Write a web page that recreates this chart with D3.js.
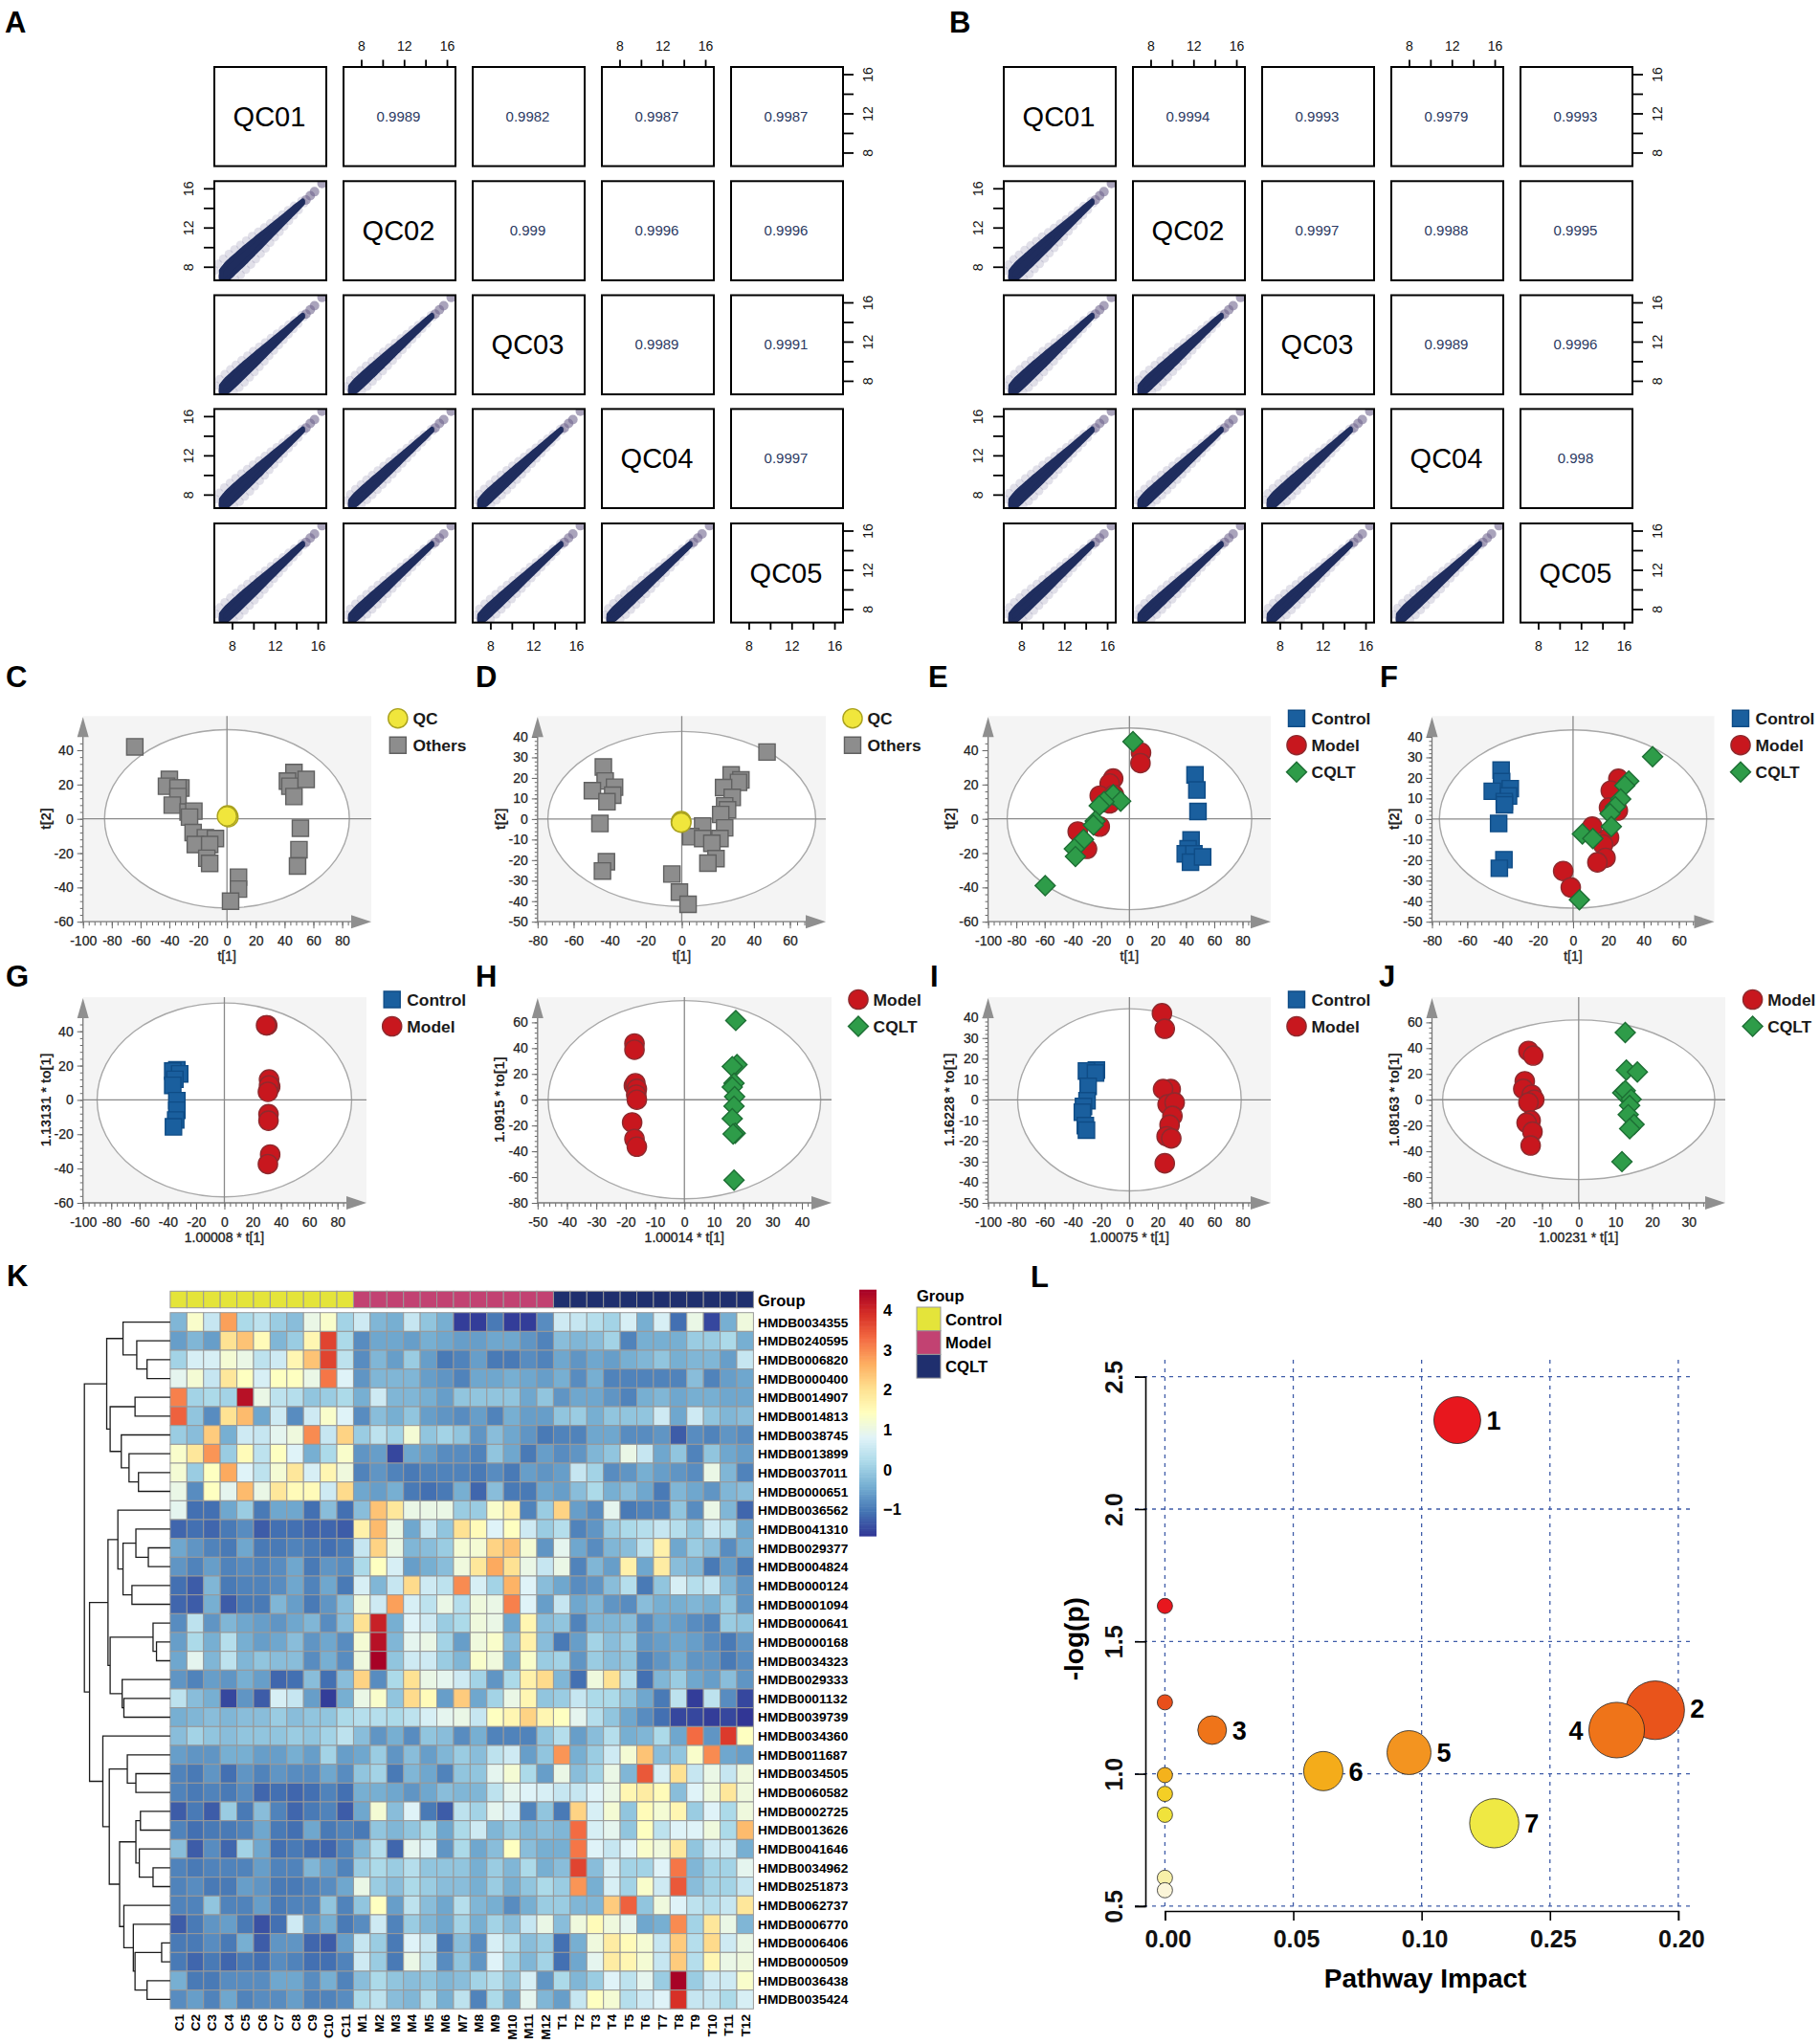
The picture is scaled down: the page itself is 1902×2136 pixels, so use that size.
<!DOCTYPE html>
<html>
<head>
<meta charset="utf-8">
<title>QC, OPLS-DA, heatmap and pathway figure</title>
<script src="https://cdn.jsdelivr.net/npm/d3@7"></script>
<style>
    body { margin: 0; background: #fff; }
    text { font-family: "Liberation Sans", Arial, sans-serif; }
</style>
</head>
<body>
<div id="chart"></div>
<script>
// ---- QC pair plots (A, B) ----
const qcNames = ['QC01', 'QC02', 'QC03', 'QC04', 'QC05'];
const qcCorrA = [['0.9989', '0.9982', '0.9987', '0.9987'], ['0.999', '0.9996', '0.9996'], ['0.9989', '0.9991'], ['0.9997']];
const qcCorrB = [['0.9994', '0.9993', '0.9979', '0.9993'], ['0.9997', '0.9988', '0.9995'], ['0.9989', '0.9996'], ['0.998']];
const qcTicks = [8, 10, 12, 14, 16];
const qcTickLabels = [8, 12, 16];
// the cloud along the diagonal
const qcLine = [7.0, 7.5, 8, 8.5, 9, 9.5, 10, 10.5, 11, 11.5, 12, 12.5, 13, 13.5, 14, 14.6];
const qcHalfWidth = [0.5, 0.66, 0.68, 0.66, 0.64, 0.6, 0.56, 0.52, 0.46, 0.41, 0.36, 0.31, 0.26, 0.22, 0.18, 0.1];
const qcTailX = [7.15, 14.9, 15.3, 15.7, 16.4];
const qcTailY = [7.0, 14.8, 15.25, 15.65, 16.5];
const qcWidthA = [[1.2], [1, 0.85], [1.05, 0.8, 0.85], [1, 0.8, 0.8, 0.85]];
const qcWidthB = [[1.1], [1, 0.95], [1, 0.85, 0.95], [1, 0.85, 0.9, 0.9]];

// ---- score plots (C - J), [t1, t2] ----
const cOthers = [[-64, 42], [-40, 23], [-42, 19], [-32, 18], [-34, 18], [-34, 13], [-38, 8], [-27, 4], [-23, 4.5], [-26, 1], [-23.5, -8], [-15, -11], [-8, -11.5], [-22, -15], [-12, -15], [-14, -23], [-12, -26], [46.5, 27], [42, 22], [43.7, 19], [55, 23], [46.5, 13], [51, -5.5], [50, -18], [49, -27.5], [8, -34], [8, -41], [2.5, -48]];
const cQc = [[0.5, 2], [1, 1], [0, 1.5]];
const dOthers = [[47.3, 32.6], [-43.5, 25.3], [-42.5, 18.5], [-37.3, 15.5], [-49.6, 13.8], [-38.3, 11.6], [-41.5, 8.4], [-45.4, -2.2], [-41.8, -20.8], [-44, -25.3], [27.4, 21.5], [32.8, 19], [31.5, 17.8], [23.2, 15.3], [28, 10.5], [23.8, 6.4], [25.4, 4.5], [21.6, 2.2], [11.6, -3.4], [23.8, -4.3], [5, -8.6], [11.6, -9.5], [21.2, -9.5], [16.7, -11.8], [19, -19.3], [14.5, -21.5], [-5.5, -26.8], [-1.3, -35.6], [3.5, -41.5]];
const dQc = [[-0.3, -1], [-0.5, -1.5], [-0.3, -1.8]];
const eControl = [[46.4, 25.6], [47.7, 16.8], [48.5, 4.3], [43.6, -12.3], [41.5, -17.5], [39.5, -20.4], [45.6, -20.4], [43.2, -25.3], [51.8, -22.2]];
const eModel = [[8.2, 38.6], [7.8, 32.5], [-11.5, 23.5], [-14, 20.6], [-21, 13.5], [-14, 9], [-11, 14], [-36.6, -7.4], [-21, -4.5], [-30, -17.5]];
const eCqlt = [[2.5, 45], [-11.5, 14], [-6.2, 10.3], [-18, 10], [-21.4, 7.6], [-24.2, -1.3], [-25.5, -3.6], [-32.5, -12], [-39, -17.5], [-38.2, -22], [-59.6, -39]];
const fControl = [[-40.8, 23.8], [-40.5, 18.2], [-35.6, 14.8], [-45.8, 13.5], [-36.6, 11.2], [-39, 8.5], [-38.9, 6.9], [-42.2, -2.2], [-39.2, -19.8], [-41.8, -24]];
const fModel = [[25.7, 19.6], [21.4, 13.8], [20.4, 5.6], [25.4, 4.1], [10.9, -3.7], [20.4, -9], [17, -12.4], [18.4, -18.9], [13.8, -21.1], [-5.6, -25.3], [-1.3, -33.3]];
const fCqlt = [[45.1, 30.3], [31.6, 18.5], [29.3, 16.3], [27, 9.7], [24, 6], [21, 2.6], [21.7, -3.7], [5.3, -7.3], [11.2, -9.5], [3.6, -39.3]];
const gControl = [[-33.6, 17.5], [-36.5, 16.8], [-31.6, 15.2], [-35, 12], [-36.5, 8.5], [-33.6, -0.4], [-33.6, -6], [-34.4, -11.7], [-36, -15.7]];
const gModel = [[30.3, 43.5], [29.5, 43.5], [31.6, 11.9], [32.4, 7.8], [31.6, 8.5], [30.8, 4.7], [31.2, -8.3], [31.2, -12.1], [32.4, -31.8], [30.8, -37.4]];
const hModel = [[-17, 43.6], [-17, 38.8], [-17.2, 11], [-16.7, 12.8], [-16.2, 8.4], [-16.4, 3.9], [-16.2, 0], [-17.8, -17.6], [-17, -30.4], [-16.2, -36.4]];
const hCqlt = [[17.5, 61.5], [17.9, 27.2], [16.3, 25.7], [16.9, 12.8], [16.3, 9.9], [17.1, 2.4], [16.9, -5], [16.3, -14.6], [17.3, -26], [16.6, -26.5], [16.9, -62.4]];
const iControl = [[-23.4, 14.4], [-30.4, 14], [-24, 13], [-29.2, 6.5], [-30, -0.4], [-32.5, -3.2], [-33.3, -6], [-31.2, -12.5], [-30.4, -14.7]];
const iModel = [[23, 42], [25, 34.5], [29.2, 5.2], [23.8, 5.2], [27, -2.2], [32, -1.3], [30.4, -7.8], [28.4, -12.1], [26.3, -17.7], [29.6, -18.7], [25, -30.8]];
const jModel = [[-13.7, 37.9], [-12.4, 34.3], [-14.7, 14.3], [-15.1, 8.4], [-12.8, 3.9], [-12.1, 0], [-13.7, -2.1], [-13.1, -16.1], [-14.2, -17.9], [-12.6, -24.8], [-13.1, -35.5]];
const jCqlt = [[12.7, 52.2], [13, 23], [16, 21.5], [12, 5.4], [12.7, 7], [14.3, 0.3], [13.9, -4.5], [13.5, -11.6], [15.1, -19.1], [13.9, -22.4], [11.8, -48]];

// ---- heatmap (K) ----
const heatRows = ['HMDB0034355', 'HMDB0240595', 'HMDB0006820', 'HMDB0000400', 'HMDB0014907', 'HMDB0014813', 'HMDB0038745', 'HMDB0013899', 'HMDB0037011', 'HMDB0000651', 'HMDB0036562', 'HMDB0041310', 'HMDB0029377', 'HMDB0004824', 'HMDB0000124', 'HMDB0001094', 'HMDB0000641', 'HMDB0000168', 'HMDB0034323', 'HMDB0029333', 'HMDB0001132', 'HMDB0039739', 'HMDB0034360', 'HMDB0011687', 'HMDB0034505', 'HMDB0060582', 'HMDB0002725', 'HMDB0013626', 'HMDB0041646', 'HMDB0034962', 'HMDB0251873', 'HMDB0062737', 'HMDB0006770', 'HMDB0006406', 'HMDB0000509', 'HMDB0036438', 'HMDB0035424'];
const heatCols = ['C1', 'C2', 'C3', 'C4', 'C5', 'C6', 'C7', 'C8', 'C9', 'C10', 'C11', 'M1', 'M2', 'M3', 'M4', 'M5', 'M6', 'M7', 'M8', 'M9', 'M10', 'M11', 'M12', 'T1', 'T2', 'T3', 'T4', 'T5', 'T6', 'T7', 'T8', 'T9', 'T10', 'T11', 'T12'];
const heatGroups = ['Control', 'Model', 'CQLT'];
const heatTicks = [4, 3, 2, 1, 0, -1];
const heatValues = [
    [-.3,1.3,.5,2.8,.2,.4,0,-.2,1,1.3,.1, .6,-.3,-.4,.5,-.1,-.4,-1.6,-1.6,-1,-1.6,-1.6,-.8, .6,.5,.3,.1,.7,-.4,.7,-1.1,1,-1.5,-.4,1.1],
    [-.6,-.3,-.6,2,2.4,1.5,-.3,0,1.6,3.7,.2, -.8,-.5,-.5,-.6,-.4,-.5,-.6,-.6,-.5,-.5,-.7,-.9, -.2,-.3,-.2,.1,-.9,-.4,-.4,-.4,0,0,.2,-.4],
    [.1,.7,.7,1.2,1,.4,.6,1.6,2.4,3.7,.4, -.8,-.3,-.6,0,-.6,-1,-.9,-.6,-1,-1,-.8,-.9, -.5,-.7,-.5,-.6,-.4,-.3,-.1,-.4,-.3,-.3,-.6,.5],
    [.9,1.2,.5,1.9,1.4,.7,1.4,1.4,1,3.2,.8, -.7,-.3,-.3,-.3,-.6,-.7,-.9,-.5,-.5,-.4,-.5,-.6, -.4,-.8,-.4,-.9,-.9,-.9,-.9,-.9,-.2,-.9,-.6,-.5],
    [3.1,.1,.2,.1,4.3,1,.4,.3,-.1,0,.2, -.4,.6,-.3,-.3,-.4,-.6,-.1,-.1,-.1,-.1,-.5,-.1, -.7,-.5,-.5,-.7,-.9,-.4,-.3,-.5,-.4,-.4,-.5,-.5],
    [3.4,-.1,-.8,2,2.5,-.5,.6,-.8,.6,1.3,.8, -.8,-.2,-.4,-.1,-.6,-.7,-.8,-.6,-.9,-.4,-.6,-.6, -.1,0,-.4,-.1,-.1,-.1,.6,-.5,.6,-.1,-.3,-.2],
    [0,-.2,2.3,-.4,.6,.5,.9,1.1,3,.5,2.2, 0,.4,.1,1.2,-.1,.1,-.1,-.7,-.2,-.5,-.7,-1, -.9,-.9,-.5,-.5,-.8,-.8,-.7,-1.3,-.8,-.9,-.7,-.8],
    [1.3,1.9,2.9,0,1.5,.4,1.4,.8,-.4,.2,1.3, -.7,-.6,-1.5,-.5,-.6,-.8,-.8,-.9,-.1,-.5,-1,-.6, -.8,-.7,-.3,-.1,1,.5,-.5,-.1,-.9,-.1,-.5,-.6],
    [1.2,0,1.4,2.7,.8,.4,1.2,1.9,.7,1.6,1.1, -.9,-.7,-.9,-1,-.9,-.9,-.9,-1,-.8,-1,-.6,-.7, -.6,.5,.1,-.8,-.7,-.4,-.6,-.7,-.8,1,-.3,-.9],
    [1,-.8,1.4,.9,2.5,1,1.9,1.5,1.5,.6,2.1, -.5,-.6,-.4,-1,-1.1,-1,-.4,-1.2,-.2,-1,-1,-.5, -.6,-.2,.2,-.4,-.2,-.5,-1,-.3,-.5,-.7,-.3,-.2],
    [.9,-1.1,-1.1,-.5,0,-1,-.5,-.5,-1.1,-.2,-1.1, -.2,2.4,1.9,1,1,1,0,0,1.3,1.7,-.9,0, 2.2,-.6,-.8,.9,-1,-.9,-.9,-.1,-.8,1,-.3,-1.2],
    [-1.2,-1.1,-1.2,-1,-.8,-1.3,-1.1,-1.1,-1.2,-1.2,-1.3, 1.7,2.5,1,-.5,.5,-.1,2,1.5,.8,1.4,.6,0, .3,-.9,-.7,0,.2,.3,.5,.3,-.1,.6,.3,-.5],
    [-.5,-.7,-.9,-1,-.5,-1,-1,-.9,-1,-1.1,-1, .5,2.2,1,-.3,-.2,0,1.2,1.2,2.2,2.4,1.2,-.7, .9,-.5,-.8,-.3,-.2,.4,1.7,-.5,0,-.2,-.8,-.4],
    [-.7,-.9,-.6,-.9,-.8,-.9,-.8,-.5,-1,-.7,-.8, .2,1.4,.7,-.6,-.4,-.2,1.1,1.9,2.7,2,1,.5, 1,-.9,-.3,-.6,1.7,-.5,1.8,-.2,-.3,-1,-.6,-1],
    [-1.1,-1.3,-.3,-1,-.9,-.9,-.8,-.5,-.9,-.5,-1, .7,-.3,.5,2.1,.6,.4,3,.7,.1,2.6,.8,-.2, -.5,-.8,-.7,-.2,.3,-1,-.1,.7,.3,.5,-.3,-.7],
    [-1.2,-1.3,-.4,-1.3,-1,-1,-.3,-.6,-1,-.7,-.2, 1.1,.6,2.8,.7,.4,1,.3,1.1,1,3.1,.8,-.6, .5,-.5,-.3,-.7,-.8,-.2,-.4,-.4,-.3,-.4,0,-.7],
    [-.8,.4,-.7,-.3,-.5,-.6,-.7,-.5,-.3,-.8,-.2, 2,4.1,-.4,.8,.6,0,.2,1.1,1,-.5,1.6,-.2, -.1,-.9,-.3,-.3,-.2,-.8,-.5,-.6,-.8,-.9,0,-.1],
    [-.6,.2,-.4,.3,-.4,-.6,-.5,-.2,-.7,-.5,-.8, 1.2,4.3,-.3,.9,1,.1,-.6,1.1,1.3,-.2,1.7,-.2, -1,-.6,.1,-.2,0,-.7,-.6,-.5,-.6,-.8,-1,-.7],
    [-.5,.9,-.3,.4,-.3,-.1,-.2,-.2,-.8,-.4,-.8, 1.1,4.5,-.1,.6,.6,0,-.3,1.3,1.1,-.4,1.3,0, .1,-.7,0,-.2,-.1,-.9,-.7,-.4,-.7,-.7,-1,-.8],
    [-.7,-.9,-.6,-.7,-.4,-.6,-1.2,-1.1,-.2,-1.1,-.2, 2.2,-.8,.2,2,1,.9,.6,.1,-.7,.2,1.7,2.1, -.3,-1.1,1.1,2,.3,-1.1,-.3,0,-.5,-.6,-.2,-.7],
    [.4,-.2,-.4,-1.5,-.7,-1.3,.7,.5,-.6,-1.6,-.4, 1,1.3,-.1,2.1,1.5,-.6,2.3,-.5,.1,1,1.6,-.1, 0,.5,.2,.2,-.1,-.5,-1,.4,-1.6,.4,-.8,-1.5],
    [-.4,-.3,-.2,-.3,-.2,-.2,0,-.2,-.1,-.1,.2, .3,.3,.2,.4,.7,.9,1,.5,1.4,1.6,2.2,1.6, 1.4,.9,.3,-.1,-.5,-.8,-1.1,-1.5,-1.5,-1.6,-1.5,-1.67],
    [-.2,.1,-.1,-.2,-.1,-.1,-.1,0,-.1,.1,.4, -.2,-.7,-.4,-.8,-.1,-.2,-.8,-.4,-.9,-.9,-.9,-.1, .3,-.6,-.2,.3,-.4,-.3,.2,-.5,3.3,-.7,3.8,1.4],
    [-.6,-.7,-.7,-.4,-.4,-.6,-.6,-.4,-.6,.1,-.6, -.5,0,-.7,-.2,-.6,-.3,0,-.2,.4,.6,-.6,-.1, 2.9,-.4,0,.6,1.2,2.4,-.2,-.1,1.3,3,-.5,-.6],
    [-.9,-1,-.7,-1.1,-.7,-.9,-.7,-.8,-.8,-.5,-.8, -.1,.1,-1,-.3,-.5,-.9,-.1,-.1,.9,1.2,.2,-.6, 1,-.2,.1,1,-.3,3.5,.7,2,.5,1,.5,1.1],
    [-.9,-1,-.9,-1,-.8,-1.2,-1.1,-1.2,-1.1,-.9,-1.1, -.4,-.4,-.5,-.7,-.5,-.2,-.3,-.3,.4,.9,.8,.7, .5,.5,.8,1,1.6,1.8,1.5,-.2,.8,1.1,1.9,1.1],
    [-1.3,-1,-1.3,0,-1,-.2,-.9,-1.2,-1,-.9,-1.3, -.5,1.2,-.2,.8,-1,-1.3,.4,.1,.9,.7,-.9,-.1, -1,2.2,.7,1.2,-.1,1.5,1.2,1.6,0,.8,.2,1.1],
    [-.9,-1.1,-1,-1,-.9,-.5,-1,-1.1,-.5,-1,-.9, -1,-.1,-.3,-.1,.2,-.5,.2,.6,-.3,0,-.3,-.2, -.3,3.3,.7,.9,-.1,1.4,.4,.8,.8,1.1,.2,2.5],
    [-.2,-1.3,-.8,-1.2,.1,-.5,-1.1,-1,-1.1,-1.2,-.9, -.3,.3,-1.2,.9,.7,-.7,.2,-.5,-.2,1.4,-.2,-.4, -.4,3.2,.8,.5,.8,1.3,1.1,1.9,-.1,.6,.6,-.4],
    [-.9,-1,-.9,-.9,-.9,-.6,-.9,-.9,-.3,-.6,-.9, 0,.2,0,.3,-.1,-.1,-.1,-.4,0,-.3,.2,-.4, -.2,3.7,-.2,.7,.1,.1,.8,3.2,-.3,.1,.1,.9],
    [-.9,-.8,-1,-1,-.6,-.7,-1,-1,-.9,-.8,-.5, 1,0,-.2,.2,0,-.2,-.2,-.4,0,-.4,-.1,.2, 0,2.9,-.4,.7,.1,1.3,.6,3.5,-.2,.1,.1,.5],
    [-.9,-.9,-.1,-.9,-.9,-.6,-1,-.9,-.9,-.1,-.9, -.1,1.4,-.6,.4,-.2,-.5,.3,-.3,-.4,-.8,-.4,0, 0,-.3,-.3,2.3,3.4,-.1,1.1,.8,.4,.3,.5,1.9],
    [-1.3,-1,-.7,-.6,-1,-1.4,-1.1,.6,-.7,-.4,-1, -.8,.6,-.9,0,-.3,-.5,.1,-.4,.1,-.2,.5,1, -.2,1.1,1.5,1.1,.9,-.5,-.4,3,.1,1.9,1,-.3],
    [-1,-1,-.8,-1,-.4,-1.3,-.7,-.7,-1.2,-1.3,-.6, .5,0,-1,.8,.5,-1,-.2,-.8,.7,.3,-.2,0, -1.1,-.4,1.1,1.8,1.5,1.2,.5,2.3,.3,2.1,.6,1],
    [-1,-1.2,-1,-1.2,-1,-1.1,-.8,-.9,-1.1,-1.1,-.9, .6,0,-1,1,.4,-.8,-.1,-.7,.8,.1,-.3,.1, -1.1,-.5,.9,1.8,1.6,1.2,.5,2.3,.3,1.6,1,1.1],
    [-.4,-1,-1,-.8,-.8,-.8,-.5,-.5,-.8,-.4,-.9, -.2,.2,-.1,-.2,-.1,-.3,-.2,.1,.3,-.1,.7,-.7, .2,-.3,0,.8,.4,.9,0,4.5,0,.6,.6,1.3],
    [-.8,-.6,-.9,-.5,-.9,-.8,-.8,-.6,-.9,-.9,-.8, .2,.4,-.2,-.3,.3,-.4,.4,-.9,.2,-.5,.9,-.3, -.6,.5,1.4,1.2,.3,.6,.8,3.9,.5,.5,.2,.7]
];
// row tree: [height, child, child], a plain number is a row index
const rowTree = [100,
    [74,
        [55, 0, [39, 1, [27, 2, 3]]],
        [70, [41, 4, 5], [57, 6, [48, 7, [37, 8, 9]]]]],
    [94,
        [72.5,
            [61, 10, [55, [40, 11, [25.5, 12, 13]], [44.6, 14, 15]]],
            [70, [20, 16, [16, 17, 18]], [56, 19, [54, 20, 21]]]],
        [78.5, 22,
            [71,
                [50, 23, [40, 24, 25]],
                [59,
                    [40, [34.7, 26, 27], [36, 28, [20, 29, 30]]],
                    [54, 31, [43, 32, [41, [10, 33, 34], [27, 35, 36]]]]]]]]];

// ---- pathway plot (L) ----
const pathImpact = [0.1139, 0.191, 0.176, 0.0184, 0.0951, 0.0617, 0.1283, 0, 0, 0, 0, 0, 0, 0];
const pathLogP = [2.336, 1.24, 1.165, 1.165, 1.08, 1.01, 0.813, 1.634, 1.27, 0.995, 0.924, 0.845, 0.607, 0.56];
const pathSize = [0.8, 1, 0.95, 0.49, 0.75, 0.67, 0.84, 0.26, 0.26, 0.26, 0.26, 0.26, 0.26, 0.26];
const pathLabels = ['1', '2', '4', '3', '5', '6', '7'];
const pathXTicks = [0, 0.05, 0.1, 0.15, 0.2];
const pathXLabels = ['0.00', '0.05', '0.10', '0.25', '0.20'];
const pathYTicks = [0.5, 1, 1.5, 2, 2.5];

const svg = d3.select('#chart').append('svg')
    .attr('width', 1902)
    .attr('height', 2136)
    .style('display', 'block');

const panelLetters = [['A', 5, 34], ['B', 992, 34], ['C', 6, 718], ['D', 497, 718], ['E', 970, 718], ['F', 1442, 718], ['G', 6, 1031], ['H', 497, 1031], ['I', 972, 1031], ['J', 1441, 1031], ['K', 7, 1344], ['L', 1077, 1345]];
svg.selectAll('.letter').data(panelLetters).enter().append('text')
    .attr('class', 'letter')
    .attr('x', d => d[1])
    .attr('y', d => d[2])
    .style('font-size', '31px')
    .style('font-weight', 'bold')
    .text(d => d[0]);

// ---------- QC pairs ----------
function drawPairs(dx, corr, widths, clipId) {
    const lefts = [224, 359, 494, 629, 764];
    const tops = [70, 189.3, 308.5, 427.4, 547];
    const w = 117, h = 103.6;
    const x = d3.scaleLinear().domain([6.35, 16.8]).range([0, w]);
    const y = d3.scaleLinear().domain([6.62, 16.73]).range([h, 0]);

    const root = svg.append('g').attr('transform', `translate(${dx},0)`);
    root.append('clipPath').attr('id', clipId)
        .append('rect').attr('width', w).attr('height', h);

    qcNames.forEach((rowName, r) => {
        qcNames.forEach((colName, c) => {
            const g = root.append('g').attr('transform', `translate(${lefts[c]},${tops[r]})`);

            if (r === c) {
                g.append('text')
                    .attr('x', w / 2 - 1).attr('y', h / 2 + 10)
                    .attr('text-anchor', 'middle')
                    .style('font-size', '29px')
                    .text(rowName);
            } else if (c > r) {
                g.append('text')
                    .attr('x', w / 2 - 1).attr('y', h / 2 + 5)
                    .attr('text-anchor', 'middle')
                    .style('font-size', '15px')
                    .style('fill', '#2c3a63')
                    .text(corr[r][c - r - 1]);
            } else {
                const k = widths[r - 1][c];
                const cloud = g.append('g').attr('clip-path', `url(#${clipId})`);
                // fringe of faint points on both sides of the band
                const fringe = qcLine.flatMap((v, i) => [
                    [v - qcHalfWidth[i] * k, v + qcHalfWidth[i] * k],
                    [v + qcHalfWidth[i] * k, v - qcHalfWidth[i] * k]
                ]);
                cloud.selectAll('.fringe').data(fringe).enter().append('circle')
                    .attr('cx', d => x(d[0]))
                    .attr('cy', d => y(d[1]))
                    .attr('r', 4.5)
                    .style('fill', '#6b6690')
                    .style('opacity', 0.2);
                cloud.selectAll('.tail').data(qcTailX).enter().append('circle')
                    .attr('cx', d => x(d))
                    .attr('cy', (d, i) => y(qcTailY[i]))
                    .attr('r', 5)
                    .style('fill', '#71688f')
                    .style('opacity', 0.6);
                const band = d3.area()
                    .x((d, i) => x(d))
                    .y0((d, i) => y(d - qcHalfWidth[i] * k))
                    .y1((d, i) => y(d + qcHalfWidth[i] * k))
                    .curve(d3.curveMonotoneX);
                cloud.append('path')
                    .datum(qcLine)
                    .attr('d', band)
                    .style('fill', '#1f2d5e')
                    .style('stroke', '#1f2d5e')
                    .style('stroke-width', 5)
                    .style('stroke-linejoin', 'round');
            }

            g.append('rect')
                .attr('width', w).attr('height', h)
                .style('fill', 'none')
                .style('stroke', '#000')
                .style('stroke-width', 2);

            // axes sit on alternating sides, like R's pairs()
            const fmt = d => qcTickLabels.includes(d) ? d : '';
            if (r === 0 && c % 2 === 1) {
                const a = g.append('g').call(d3.axisTop(x).tickValues(qcTicks).tickFormat(fmt).tickSize(7.5).tickPadding(10));
                styleQcAxis(a);
            }
            if (r === 4 && c % 2 === 0) {
                const a = g.append('g').attr('transform', `translate(0,${h})`)
                    .call(d3.axisBottom(x).tickValues(qcTicks).tickFormat(fmt).tickSize(7.5).tickPadding(11.5));
                styleQcAxis(a);
            }
            if (c === 0 && r % 2 === 1) {
                const a = g.append('g').call(d3.axisLeft(y).tickValues(qcTicks).tickFormat(fmt).tickSize(11));
                styleQcAxis(a);
                a.selectAll('text').attr('x', 0).attr('dy', 0).attr('y', -22)
                    .attr('transform', 'rotate(-90)').attr('text-anchor', 'middle');
            }
            if (c === 4 && r % 2 === 0) {
                const a = g.append('g').attr('transform', `translate(${w},0)`)
                    .call(d3.axisRight(y).tickValues(qcTicks).tickFormat(fmt).tickSize(11));
                styleQcAxis(a);
                a.selectAll('text').attr('x', 0).attr('dy', 0).attr('y', 31)
                    .attr('transform', 'rotate(-90)').attr('text-anchor', 'middle');
            }
        });
    });
}

function styleQcAxis(a) {
    a.select('.domain').remove();
    a.selectAll('line').style('stroke', '#000').style('stroke-width', 1.8);
    a.selectAll('text').style('font-size', '14px').style('font-family', '"Liberation Sans"').style('fill', '#111');
}

drawPairs(0, qcCorrA, qcWidthA, 'clipA');
drawPairs(825, qcCorrB, qcWidthB, 'clipB');

// ---------- score plots ----------
const markerStyles = {
    QC: { type: 'circle', fill: '#f0e63c', stroke: '#aaa21f' },
    Others: { type: 'square', fill: '#8d8d8d', stroke: '#616161' },
    Control: { type: 'square', fill: '#1a5f9e', stroke: '#0f4c86' },
    Model: { type: 'circle', fill: '#c8171e', stroke: '#8e2a2e' },
    CQLT: { type: 'diamond', fill: '#2e9c49', stroke: '#1d6e34' }
};

function marker(sel, kind) {
    const st = markerStyles[kind];
    if (st.type === 'circle') {
        sel.attr('d', d3.symbol(d3.symbolCircle, 320)());
    } else {
        sel.attr('d', d3.symbol(d3.symbolSquare, st.type === 'square' ? 290 : 220)());
    }
    sel.style('fill', st.fill).style('stroke', st.stroke).style('stroke-width', 1.4);
}

function drawScore(p) {
    const x = d3.scaleLinear().domain([p.xTicks[0], p.xTicks[1]]).range([p.xPx[0], p.xPx[1]]);
    const y = d3.scaleLinear().domain([p.yTicks[0], p.yTicks[1]]).range([p.axisY, p.yTopTick]);
    const g = svg.append('g');
    const bgTop = p.axisY - 214.9;

    g.append('rect')
        .attr('x', p.xPx[0]).attr('y', bgTop)
        .attr('width', p.bgRight - p.xPx[0]).attr('height', p.axisY - bgTop)
        .style('fill', '#f4f4f4');
    g.append('ellipse')
        .attr('cx', x(0)).attr('cy', y(0))
        .attr('rx', x(p.rx) - x(0)).attr('ry', y(0) - y(p.ry))
        .style('fill', '#fff')
        .style('stroke', '#a8a8a8')
        .style('stroke-width', 1.4);
    // crosshair through the origin
    g.append('line').attr('x1', p.xPx[0]).attr('x2', p.bgRight).attr('y1', y(0)).attr('y2', y(0)).style('stroke', '#8a8a8a').style('stroke-width', 1.3);
    g.append('line').attr('x1', x(0)).attr('x2', x(0)).attr('y1', bgTop).attr('y2', p.axisY).style('stroke', '#8a8a8a').style('stroke-width', 1.3);

    const xMajor = d3.range(p.xTicks[0], p.xTicks[1] + 0.01, p.xStep);
    const yMajor = d3.range(p.yTicks[0], p.yTicks[1] + 0.01, p.yStep);
    const xMinor = d3.range(p.xTicks[0], p.xTicks[1] + p.xStep * 0.7, p.xStep / 5);
    const yMinor = d3.range(p.yTicks[0], p.yTicks[1] + p.yStep * 0.7, p.yStep / 5);

    const axisX = g.append('g').attr('transform', `translate(0,${p.axisY})`);
    axisX.append('g').call(d3.axisBottom(x).tickValues(xMinor.filter(v => x(v) < p.bgRight - 22)).tickSize(4).tickFormat(''));
    axisX.append('g').call(d3.axisBottom(x).tickValues(xMajor).tickSize(7).tickPadding(8).tickFormat(d => String(d)));
    const axisY = g.append('g').attr('transform', `translate(${p.xPx[0]},0)`);
    axisY.append('g').call(d3.axisLeft(y).tickValues(yMinor.filter(v => y(v) > bgTop + 22)).tickSize(3).tickFormat(''));
    axisY.append('g').call(d3.axisLeft(y).tickValues(yMajor).tickSize(6).tickPadding(4).tickFormat(d => String(d)));
    g.selectAll('.domain').remove();
    g.selectAll('.tick line').style('stroke', '#666').style('stroke-width', 1);
    g.selectAll('.tick text')
        .style('font-family', '"Liberation Sans"')
        .style('font-size', '14px')
        .style('fill', '#222')
        .style('stroke', '#222')
        .style('stroke-width', 0.25);

    g.append('line').attr('x1', p.xPx[0]).attr('x2', p.bgRight - 20).attr('y1', p.axisY).attr('y2', p.axisY).style('stroke', '#777').style('stroke-width', 1.3);
    g.append('line').attr('x1', p.xPx[0]).attr('x2', p.xPx[0]).attr('y1', p.axisY).attr('y2', bgTop + 20).style('stroke', '#777').style('stroke-width', 1.3);
    g.append('path')
        .attr('d', `M${p.bgRight},${p.axisY}l-21,-7l0,14z`)
        .style('fill', '#8f8f8f');
    g.append('path')
        .attr('d', `M${p.xPx[0]},${bgTop + 1}l-6,21l12,0z`)
        .style('fill', '#8f8f8f');

    g.append('text')
        .attr('x', x(0)).attr('y', p.axisY + 41)
        .attr('text-anchor', 'middle')
        .style('font-size', '14px').style('fill', '#222').style('stroke', '#222').style('stroke-width', 0.35)
        .text(p.xLabel);
    g.append('text')
        .attr('transform', `translate(${p.yLabelX},${y(0)}) rotate(-90)`)
        .attr('text-anchor', 'middle')
        .style('font-size', '14.5px').style('font-weight', 'bold').style('fill', '#222')
        .text(p.yLabel);

    p.series.forEach(s => {
        g.selectAll(null).data(s.values).enter().append('path')
            .call(marker, s.name)
            .attr('transform', d => `translate(${x(d[0])},${y(d[1])})` + (markerStyles[s.name].type === 'diamond' ? ' rotate(45)' : ''));
    });

    // legend
    const legendSeries = p.series.slice().sort((a, b) => a.legendOrder - b.legendOrder);
    legendSeries.forEach((s, i) => {
        const ly = p.axisY - 212.5 + i * 28;
        g.append('path')
            .call(marker, s.name)
            .attr('transform', `translate(${p.legendX},${ly})` + (markerStyles[s.name].type === 'diamond' ? ' rotate(45)' : ''));
        g.append('text')
            .attr('x', p.legendX + 15.6).attr('y', ly + 6)
            .style('font-size', '17.4px')
            .style('font-weight', 'bold')
            .style('fill', '#1a1a1a')
            .text(s.name);
    });
}

const row1Y = 963.2, row2Y = 1257;
const scorePanels = [
    { xTicks: [-100, 80], xStep: 20, xPx: [86.7, 357.6], bgRight: 388, yTicks: [-60, 40], yStep: 20, axisY: row1Y, yTopTick: 784, rx: 85, ry: 52, xLabel: 't[1]', yLabel: 't[2]', yLabelX: 53, legendX: 415.8,
      series: [{ name: 'Others', values: cOthers, legendOrder: 1 }, { name: 'QC', values: cQc, legendOrder: 0 }] },
    { xTicks: [-80, 60], xStep: 20, xPx: [561.8, 825.5], bgRight: 863, yTicks: [-50, 40], yStep: 10, axisY: row1Y, yTopTick: 770, rx: 74.3, ry: 42.6, xLabel: 't[1]', yLabel: 't[2]', yLabelX: 528, legendX: 891,
      series: [{ name: 'Others', values: dOthers, legendOrder: 1 }, { name: 'QC', values: dQc, legendOrder: 0 }] },
    { xTicks: [-100, 80], xStep: 20, xPx: [1032.6, 1298.5], bgRight: 1328, yTicks: [-60, 40], yStep: 20, axisY: row1Y, yTopTick: 784, rx: 86.5, ry: 53, xLabel: 't[1]', yLabel: 't[2]', yLabelX: 998, legendX: 1355,
      series: [{ name: 'Control', values: eControl, legendOrder: 0 }, { name: 'Model', values: eModel, legendOrder: 1 }, { name: 'CQLT', values: eCqlt, legendOrder: 2 }] },
    { xTicks: [-80, 60], xStep: 20, xPx: [1496.5, 1754.5], bgRight: 1791.5, yTicks: [-50, 40], yStep: 10, axisY: row1Y, yTopTick: 770, rx: 75.8, ry: 43.4, xLabel: 't[1]', yLabel: 't[2]', yLabelX: 1462, legendX: 1819,
      series: [{ name: 'Control', values: fControl, legendOrder: 0 }, { name: 'Model', values: fModel, legendOrder: 1 }, { name: 'CQLT', values: fCqlt, legendOrder: 2 }] },
    { xTicks: [-100, 80], xStep: 20, xPx: [86.7, 352.7], bgRight: 383, yTicks: [-60, 40], yStep: 20, axisY: row2Y, yTopTick: 1077.7, rx: 90, ry: 56.5, xLabel: '1.00008 * t[1]', yLabel: '1.13131 * to[1]', yLabelX: 53, legendX: 409.7,
      series: [{ name: 'Control', values: gControl, legendOrder: 0 }, { name: 'Model', values: gModel, legendOrder: 1 }] },
    { xTicks: [-50, 40], xStep: 10, xPx: [561.8, 838], bgRight: 869, yTicks: [-80, 60], yStep: 20, axisY: row2Y, yTopTick: 1068.4, rx: 46.4, ry: 76.9, xLabel: '1.00014 * t[1]', yLabel: '1.0915 * to[1]', yLabelX: 527, legendX: 897,
      series: [{ name: 'Model', values: hModel, legendOrder: 0 }, { name: 'CQLT', values: hCqlt, legendOrder: 1 }] },
    { xTicks: [-100, 80], xStep: 20, xPx: [1032.6, 1298.5], bgRight: 1328, yTicks: [-50, 40], yStep: 10, axisY: row2Y, yTopTick: 1063.2, rx: 79.1, ry: 44.2, xLabel: '1.00075 * t[1]', yLabel: '1.16228 * to[1]', yLabelX: 997, legendX: 1355,
      series: [{ name: 'Control', values: iControl, legendOrder: 0 }, { name: 'Model', values: iModel, legendOrder: 1 }] },
    { xTicks: [-40, 30], xStep: 10, xPx: [1496.5, 1764.8], bgRight: 1803, yTicks: [-80, 60], yStep: 20, axisY: row2Y, yTopTick: 1068.4, rx: 37.1, ry: 61.9, xLabel: '1.00231 * t[1]', yLabel: '1.08163 * to[1]', yLabelX: 1462, legendX: 1831.6,
      series: [{ name: 'Model', values: jModel, legendOrder: 0 }, { name: 'CQLT', values: jCqlt, legendOrder: 1 }] }
];
scorePanels.forEach(drawScore);

// ---------- heatmap ----------
const hm = svg.append('g');
const hx = d3.scaleBand().domain(heatCols).range([177.9, 787.4]);
const hy = d3.scaleBand().domain(heatRows).range([1371.7, 2099.3]);
const heatDomain = d3.range(11).map(i => -1.67 + i * (4.52 + 1.67) / 10);
const heatColor = d3.scaleLinear()
    .domain(heatDomain)
    .range(['#313695', '#4575b4', '#74add1', '#abd9e9', '#e0f3f8', '#ffffbf', '#fee090', '#fdae61', '#f46d43', '#d73027', '#a50026']);
const groupColor = d3.scaleOrdinal().domain(heatGroups).range(['#e4e43a', '#c24272', '#1f2f6e']);
const groupOf = c => c[0] === 'C' ? 'Control' : (c[0] === 'M' ? 'Model' : 'CQLT');

hm.selectAll('.ann').data(heatCols).enter().append('rect')
    .attr('x', d => hx(d))
    .attr('y', 1349.3)
    .attr('width', hx.bandwidth())
    .attr('height', 17.4)
    .style('fill', d => groupColor(groupOf(d)))
    .style('stroke', '#999')
    .style('stroke-width', 1);
hm.append('text')
    .attr('x', 792).attr('y', 1364.5)
    .style('font-size', '16.5px').style('font-weight', 'bold')
    .text('Group');

heatRows.forEach((name, r) => {
    hm.selectAll(null).data(heatValues[r]).enter().append('rect')
        .attr('x', (d, i) => hx(heatCols[i]))
        .attr('y', hy(name))
        .attr('width', hx.bandwidth())
        .attr('height', hy.bandwidth())
        .style('fill', d => heatColor(d))
        .style('stroke', '#999')
        .style('stroke-width', 1);
});
hm.selectAll('.rowlab').data(heatRows).enter().append('text')
    .attr('x', 792)
    .attr('y', d => hy(d) + hy.bandwidth() / 2 + 5)
    .style('font-size', '13.7px').style('font-weight', 'bold')
    .text(d => d);
hm.selectAll('.collab').data(heatCols).enter().append('text')
    .attr('transform', d => `translate(${hx(d) + hx.bandwidth() / 2 + 5},2105) rotate(-90)`)
    .attr('text-anchor', 'end')
    .style('font-size', '13.7px').style('font-weight', 'bold')
    .text(d => d);

// dendrogram, height 0 is the leaf edge
const dendroX = d3.scaleLinear().domain([0, 100]).range([177.9, 88.2]);
function drawTree(node) {
    if (typeof node === 'number') {
        return { x: dendroX(0), y: hy(heatRows[node]) + hy.bandwidth() / 2 };
    }
    const a = drawTree(node[1]);
    const b = drawTree(node[2]);
    const nx = dendroX(node[0]);
    hm.append('path')
        .attr('d', `M${a.x},${a.y}H${nx}V${b.y}H${b.x}`)
        .style('fill', 'none')
        .style('stroke', '#1c1c1c')
        .style('stroke-width', 1.3);
    return { x: nx, y: (a.y + b.y) / 2 };
}
drawTree(rowTree);

// colour bar
const barY = d3.scaleLinear().domain([-1.67, 4.52]).range([1605, 1347.7]);
const barSteps = d3.range(100).map(i => -1.67 + i * (4.52 + 1.67) / 100);
hm.selectAll('.bar').data(barSteps).enter().append('rect')
    .attr('x', 898)
    .attr('y', d => barY(d + (4.52 + 1.67) / 100))
    .attr('width', 18)
    .attr('height', (1605 - 1347.7) / 100 + 0.6)
    .style('fill', d => heatColor(d + (4.52 + 1.67) / 200));
hm.selectAll('.barlab').data(heatTicks).enter().append('text')
    .attr('x', 923)
    .attr('y', d => barY(d) + 6)
    .style('font-size', '16.5px').style('font-weight', 'bold')
    .text(d => d < 0 ? '\u2212' + Math.abs(d) : d);

// group legend
hm.append('text').attr('x', 958).attr('y', 1360)
    .style('font-size', '16.5px').style('font-weight', 'bold')
    .text('Group');
heatGroups.forEach((name, i) => {
    hm.append('rect')
        .attr('x', 958).attr('y', 1366 + i * 24.7)
        .attr('width', 25).attr('height', 24.7)
        .style('fill', groupColor(name))
        .style('stroke', '#999');
    hm.append('text')
        .attr('x', 988).attr('y', 1384.5 + i * 24.7)
        .style('font-size', '16.7px').style('font-weight', 'bold')
        .text(name);
});

// ---------- pathway bubbles ----------
const pw = svg.append('g');
const px = d3.scaleLinear().domain([0, 0.2]).range([1217.4, 1753.9]);
const py = d3.scaleLinear().domain([0.5, 2.5]).range([1991.9, 1438.7]);
const pr = d3.scaleLinear().domain([0, 1]).range([0, 30.6]);
const pc = d3.scaleLinear()
    .domain([0.56, 0.607, 0.813, 0.924, 1.01, 1.08, 1.165, 1.24, 1.6])
    .range(['#fbf5d8', '#f8f0a8', '#efe944', '#f4cf25', '#f4ac1a', '#f39420', '#ef7419', '#e9541b', '#e8171e'])
    .clamp(true);

pw.selectAll('.gridx').data(pathXTicks).enter().append('line')
    .attr('x1', d => px(d)).attr('x2', d => px(d))
    .attr('y1', 1421).attr('y2', 1997)
    .style('stroke', '#3f5ca8').style('stroke-width', 1.3).style('stroke-dasharray', '4,5');
pw.selectAll('.gridy').data(pathYTicks).enter().append('line')
    .attr('x1', 1186).attr('x2', 1771)
    .attr('y1', d => py(d)).attr('y2', d => py(d))
    .style('stroke', '#3f5ca8').style('stroke-width', 1.3).style('stroke-dasharray', '4,5');

const pAxisX = pw.append('g').attr('transform', 'translate(0,1997)')
    .call(d3.axisBottom(px).tickValues(pathXTicks).tickSize(10).tickPadding(10).tickFormat((d, i) => pathXLabels[i]));
const pAxisY = pw.append('g').attr('transform', 'translate(1197,0)')
    .call(d3.axisLeft(py).tickValues(pathYTicks).tickSize(11).tickFormat(d3.format('.1f')));
[pAxisX, pAxisY].forEach(a => {
    a.selectAll('.domain').style('stroke', '#000').style('stroke-width', 1.6);
    a.selectAll('line').style('stroke', '#000').style('stroke-width', 1.6);
    a.selectAll('text')
        .style('font-family', '"Liberation Sans"')
        .style('font-size', '25px')
        .style('font-weight', 'bold')
        .style('fill', '#111');
});
pAxisX.selectAll('text').attr('x', 3);
pAxisY.selectAll('text').attr('x', 0).attr('dy', 0).attr('y', -24)
    .attr('transform', 'rotate(-90)').attr('text-anchor', 'middle');

pw.selectAll('.bubble').data(pathImpact).enter().append('circle')
    .attr('cx', d => px(d))
    .attr('cy', (d, i) => py(pathLogP[i]))
    .attr('r', (d, i) => pr(pathSize[i]))
    .style('fill', (d, i) => pc(pathLogP[i]))
    .style('stroke', '#222')
    .style('stroke-width', 0.8);
pw.selectAll('.bubblelab').data(pathLabels).enter().append('text')
    .attr('x', (d, i) => d === '4'
        ? px(pathImpact[i]) - pr(pathSize[i]) - 6
        : px(pathImpact[i]) + pr(pathSize[i]) + 6)
    .attr('y', (d, i) => py(pathLogP[i]) + (d === '2' ? 8 : 10))
    .attr('text-anchor', d => d === '4' ? 'end' : 'start')
    .style('font-size', '27px').style('font-weight', 'bold')
    .text(d => d);

pw.append('text')
    .attr('x', 1489.6).attr('y', 2077)
    .attr('text-anchor', 'middle')
    .style('font-size', '28px').style('font-weight', 'bold')
    .text('Pathway Impact');
pw.append('text')
    .attr('transform', 'translate(1132,1712.7) rotate(-90)')
    .attr('text-anchor', 'middle')
    .style('font-size', '28px').style('font-weight', 'bold')
    .text('-log(p)');
</script>
</body>
</html>
